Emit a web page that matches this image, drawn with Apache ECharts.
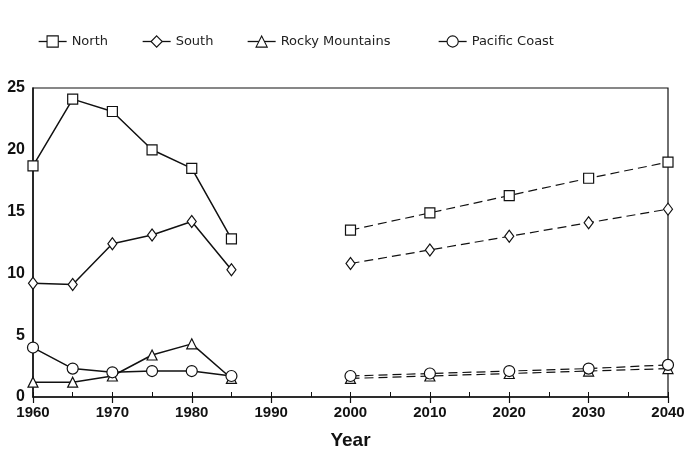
<!DOCTYPE html>
<html><head><meta charset="utf-8">
<script src="https://cdn.jsdelivr.net/npm/echarts@6/dist/echarts.min.js"></script>
<style>html,body{margin:0;padding:0;background:#fff}#c{width:694px;height:455px}</style>
</head><body><div id="c"></div>
<script>
const histYears = [1960, 1965, 1970, 1975, 1980, 1985];
const projYears = [2000, 2010, 2020, 2030, 2040];
const seriesNames = ['North', 'South', 'Rocky Mountains', 'Pacific Coast'];
const northHist = [18.7, 24.1, 23.1, 20.0, 18.5, 12.8];
const northProj = [13.5, 14.9, 16.3, 17.7, 19.0];
const southHist = [9.2, 9.1, 12.4, 13.1, 14.2, 10.3];
const southProj = [10.8, 11.9, 13.0, 14.1, 15.2];
const rockyHist = [1.2, 1.2, 1.7, 3.4, 4.3, 1.5];
const rockyProj = [1.5, 1.7, 1.9, 2.1, 2.3];
const pacificHist = [4.0, 2.3, 2.0, 2.1, 2.1, 1.7];
const pacificProj = [1.7, 1.9, 2.1, 2.3, 2.6];
const yTicks = [0, 5, 10, 15, 20, 25];
const xTicks = [1960, 1970, 1980, 1990, 2000, 2010, 2020, 2030, 2040];

const symbols = ['rect', 'diamond', 'triangle', 'circle'];
const sizes = [10, [9, 12], 10, 11];
const hist = [northHist, southHist, rockyHist, pacificHist];
const proj = [northProj, southProj, rockyProj, pacificProj];
const pair = (xs, ys) => xs.map((x, i) => [x, ys[i]]);

const series = [];
seriesNames.forEach((n, k) => {
  series.push({
    name: n, type: 'line', data: pair(histYears, hist[k]),
    symbol: symbols[k], symbolSize: sizes[k], showAllSymbol: true,
    lineStyle: { color: '#111', width: 1.5, type: 'solid' },
    itemStyle: { color: '#fff', borderColor: '#111', borderWidth: 1.2 },
    z: 3
  });
  series.push({
    name: n + ' (projected)', type: 'line', data: pair(projYears, proj[k]),
    symbol: symbols[k], symbolSize: sizes[k], showAllSymbol: true,
    lineStyle: { color: '#111', width: 1.2, type: [9, 5] },
    itemStyle: { color: '#fff', borderColor: '#111', borderWidth: 1.2 },
    z: 3
  });
});

const legendLefts = [33, 137, 242, 433];
const legends = seriesNames.map((n, k) => ({
  data: [n], left: legendLefts[k], top: 30,
  itemWidth: 28, itemHeight: 14, itemGap: 0,
  lineStyle: { width: 1.3 },
  itemStyle: { borderWidth: 1.1 },
  textStyle: { fontSize: 13, color: '#222', fontFamily: 'DejaVu Sans, sans-serif', padding: [0, 0, 0, 0] }
}));

const chart = echarts.init(document.getElementById('c'), null, { renderer: 'canvas' });
chart.setOption({
  animation: false,
  backgroundColor: '#fff',
  textStyle: { fontFamily: 'Liberation Sans, Arial, sans-serif', color: '#111' },
  legend: legends,
  grid: { left: 33, right: 26, top: 88, bottom: 58, show: true, borderColor: '#111', borderWidth: 1.2, backgroundColor: 'transparent' },
  xAxis: [{
    type: 'value', min: 1960, max: 2040, interval: 10,
    name: 'Year', nameLocation: 'middle', nameGap: 34,
    nameTextStyle: { fontSize: 19, fontWeight: 'bold', color: '#111', fontFamily: 'Liberation Sans, Arial, sans-serif' },
    axisLine: { show: true, lineStyle: { color: '#111', width: 1.5 } },
    axisTick: { show: true, length: 6, inside: false, lineStyle: { color: '#111', width: 1.2 } },
    splitLine: { show: false },
    axisLabel: {
      fontSize: 15, fontWeight: 'bold', color: '#111', margin: 8,
      formatter: v => xTicks.includes(v) ? String(v) : ''
    }
  }, {
    type: 'value', min: 1960, max: 2040, interval: 5, position: 'bottom',
    axisLine: { show: false },
    axisTick: { show: true, length: 5, inside: true, lineStyle: { color: '#111', width: 1 } },
    axisLabel: { show: false },
    splitLine: { show: false }
  }],
  yAxis: {
    type: 'value', min: 0, max: 25, interval: 5,
    axisLine: { show: true, lineStyle: { color: '#111', width: 1.5 } },
    axisTick: { show: false },
    splitLine: { show: false },
    axisLabel: {
      fontSize: 16, fontWeight: 'bold', color: '#111', margin: 8,
      formatter: v => yTicks.includes(v) ? String(v) : ''
    }
  },
  series: series
});
</script></body></html>
